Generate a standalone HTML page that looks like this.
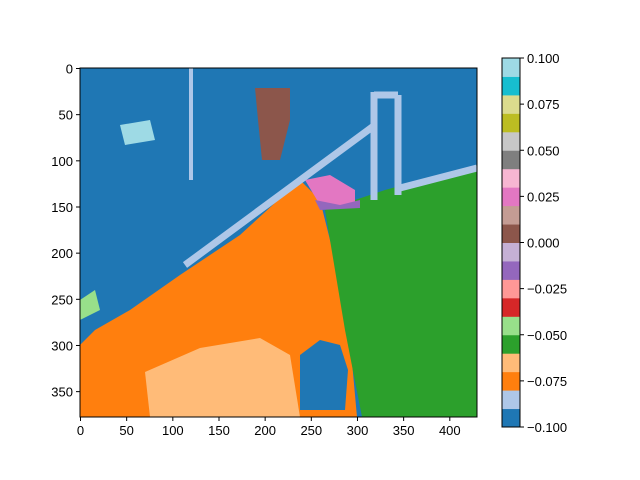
<!DOCTYPE html>
<html><head><meta charset="utf-8"><style>
body{margin:0;background:#fff;}
svg{display:block;font-family:"Liberation Sans",sans-serif;}
</style></head><body>
<svg id="fig" width="640" height="480" viewBox="0 0 640 480" xmlns="http://www.w3.org/2000/svg">
<defs><clipPath id="ax"><rect x="80" y="68" width="397" height="349"/></clipPath></defs>
<g id="image" clip-path="url(#ax)">
<rect x="80" y="68" width="397" height="349" fill="#1f77b4"/>
<polygon fill="#ff7f0e" points="80,345 95,330 130,310 180,275 240,235 300,180 320,200 335,260 350,340 357,417 80,417"/>
<polygon fill="#ffbb78" points="145,372 200,348 260,338 290,355 300,417 150,417"/>
<polygon fill="#1f77b4" points="300,355 320,340 340,345 348,370 345,410 300,410"/>
<polygon fill="#2ca02c" points="325,210 385,190 477,165 477,417 362,417 345,330"/>
<polygon fill="#8c564b" points="255,88 290,88 290,120 280,160 262,160 258,120"/>
<polygon fill="#e377c2" points="305,180 330,175 355,190 355,205 320,205"/>
<polygon fill="#9467bd" points="315,200 340,205 360,200 360,208 320,210"/>
<g stroke="#aec7e8" stroke-width="7" fill="none">
<line x1="185" y1="265" x2="375" y2="125"/>
<line x1="374" y1="92" x2="374" y2="200"/>
<line x1="398" y1="95" x2="398" y2="195"/>
<line x1="374" y1="95" x2="398" y2="95"/>
<line x1="400" y1="188" x2="477" y2="168"/>
<line x1="191" y1="68" x2="191" y2="180" stroke-width="4"/>
</g>
<polygon fill="#9edae5" points="120,125 150,120 155,140 125,145"/>
<polygon fill="#98df8a" points="80,300 95,290 100,310 80,320"/>
</g>
<rect x="80" y="68" width="397" height="349" fill="none" stroke="#000" stroke-width="1"/>
<g id="xt" font-size="13" text-anchor="middle"></g>
<g id="yt" font-size="13" text-anchor="end"></g>
<g id="cb"></g>
<g id="cbt" font-size="13"></g>
</svg>
<script>
const xTicks=[0,50,100,150,200,250,300,350,400];
const yTicks=[0,50,100,150,200,250,300,350];
const cbColors=["#1f77b4","#aec7e8","#ff7f0e","#ffbb78","#2ca02c","#98df8a","#d62728","#ff9896","#9467bd","#c5b0d5","#8c564b","#c49c94","#e377c2","#f7b6d2","#7f7f7f","#c7c7c7","#bcbd22","#dbdb8d","#17becf","#9edae5"];
const cbTicks=[-0.1,-0.075,-0.05,-0.025,0,0.025,0.05,0.075,0.1];
const NS="http://www.w3.org/2000/svg";
const s=397/430, x0=80.5, y0=68.5;
const X=v=>x0+v*s, Y=v=>y0+v*s;
function mk(t,a,p){const e=document.createElementNS(NS,t);for(const k in a)e.setAttribute(k,a[k]);p.appendChild(e);return e;}
const xt=document.getElementById('xt');
xTicks.forEach(v=>{
const l=mk('line',{x1:X(v),x2:X(v),y1:417,y2:421,stroke:'#000'},xt);


const t=mk('text',{x:X(v),y:435},xt);t.textContent=v;


});
const yt=document.getElementById('yt');
yTicks.forEach(v=>{
const l=mk('line',{x1:76,x2:80,y1:Y(v),y2:Y(v),stroke:'#000'},yt);


const t=mk('text',{x:73,y:Y(v)+5},yt);t.textContent=v;


});
const cb=document.getElementById('cb');
const cbTop=58,cbBot=427,cbX=502,cbW=18,vmin=-0.1,vmax=0.1;
const CY=v=>cbBot-(v-vmin)/(vmax-vmin)*(cbBot-cbTop);
const h=(cbBot-cbTop)/cbColors.length;
cbColors.forEach((c,i)=>{
const r=mk('rect',{x:cbX,y:cbBot-(i+1)*h,width:cbW,height:h+0.5,fill:c},cb);


});
const fr=mk('rect',{x:cbX,y:cbTop,width:cbW,height:cbBot-cbTop,fill:'none',stroke:'#000'},cb);


const cbt=document.getElementById('cbt');
cbTicks.forEach(v=>{
const l=mk('line',{x1:cbX+cbW,x2:cbX+cbW+4,y1:CY(v),y2:CY(v),stroke:'#000'},cbt);


const t=mk('text',{x:cbX+cbW+7,y:CY(v)+5},cbt);
t.textContent=(v<0?'\u2212':'')+Math.abs(v).toFixed(3);


});
</script>
</body></html>
